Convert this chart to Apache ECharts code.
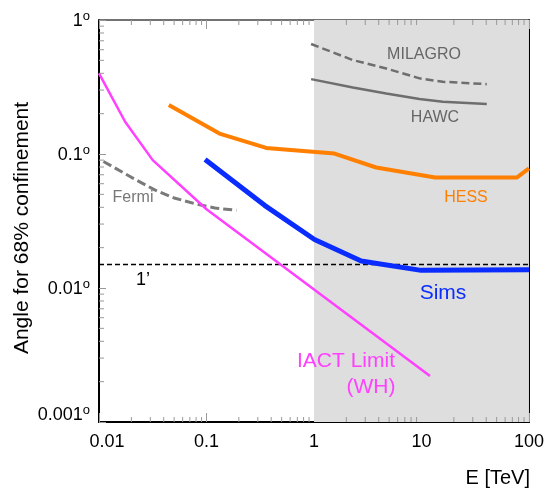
<!DOCTYPE html>
<html><head><meta charset="utf-8">
<script src="https://cdn.jsdelivr.net/npm/echarts@6/dist/echarts.min.js"></script>
<style>html,body{margin:0;padding:0;background:#fff}#c{width:547px;height:490px}</style>
</head><body><div id="c"></div>
<script>
// ---- data ----
const xTickValues = [0.01, 0.1, 1, 10, 100];
const xTickLabels = ['0.01', '0.1', '1', '10', '100'];
const yTickValues = [0.001, 0.01, 0.1, 1];
const yTickLabels = ['0.001', '0.01', '0.1', '1'];

const iactE     = [0.01, 0.0175, 0.0316, 0.1, 12];
const iactTheta = [0.40, 0.174, 0.090, 0.0387, 0.0022];

const fermiE     = [0.011, 0.02, 0.033, 0.05, 0.077, 0.12, 0.19];
const fermiTheta = [0.088, 0.067, 0.054, 0.047, 0.0427, 0.0395, 0.038];

const hessE     = [0.0446, 0.132, 0.359, 1.55, 3.79, 13.4, 76.9, 100];
const hessTheta = [0.232, 0.142, 0.111, 0.1008, 0.0793, 0.0667, 0.0667, 0.078];

const simsE     = [0.097, 0.347, 1.01, 2.75, 9.93, 100];
const simsTheta = [0.091, 0.0414, 0.023, 0.0159, 0.01354, 0.0137];

const milagroE     = [0.94, 2.3, 4.7, 9.58, 15.8, 40.5];
const milagroTheta = [0.662, 0.502, 0.435, 0.367, 0.346, 0.332];

const hawcE     = [0.94, 2.3, 4.7, 9.58, 15.8, 40.5];
const hawcTheta = [0.362, 0.314, 0.283, 0.257, 0.245, 0.236];

const arcminE     = [0.01, 100];
const arcminTheta = [0.015, 0.015];

const shadeE = [1, 100];

// ---- helpers ----
const FONT = 'Liberation Sans, Arial, Helvetica, sans-serif';
const pairs = (xs, ys) => xs.map((x, i) => [x, ys[i]]);
const idxOf = (arr, v) => arr.findIndex(t => Math.abs(Math.log10(t) - Math.log10(v)) < 1e-6);

// minor tick positions (2..9 per decade)
const minorData = [];
for (let d = -2; d < 2; d++) for (let k = 2; k <= 9; k++) {
  const v = k * Math.pow(10, d);
  minorData.push([v, 0.001, 0]);
  minorData.push([v, 1, 1]);
}
for (let d = -3; d < 0; d++) for (let k = 2; k <= 9; k++) {
  minorData.push([0.01, k * Math.pow(10, d), 2]);
}

const chart = echarts.init(document.getElementById('c'), null, {renderer: 'canvas'});

const tickStyle = {color: '#999', width: 1};

const option = {
  animation: false,
  backgroundColor: '#fff',
  grid: {left: 99, right: 17, top: 20, bottom: 68, containLabel: false},
  xAxis: [
    {
      type: 'log', logBase: 10, min: 0.01, max: 100, splitNumber: 4, position: 'bottom',
      axisLine: {show: true, onZero: false, lineStyle: {color: '#000', width: 2}},
      axisTick: {show: true, inside: true, length: 9, lineStyle: tickStyle},
      splitLine: {show: false},
      axisLabel: {
        margin: 11, fontFamily: FONT, fontSize: 18, color: '#000',
        formatter: v => {
          const i = idxOf(xTickValues, v);
          if (i < 0) return '';
          return i === 0 ? '{s|' + xTickLabels[i] + '}' : xTickLabels[i];
        },
        rich: {s: {fontFamily: FONT, fontSize: 18, color: '#000', padding: [0, 0, 0, 16]}}
      }
    },
    {
      type: 'log', logBase: 10, min: 0.01, max: 100, splitNumber: 4, position: 'top',
      axisLine: {show: true, onZero: false, lineStyle: {color: '#444', width: 1.5}},
      axisTick: {show: true, inside: true, length: 9, lineStyle: tickStyle},
      axisLabel: {show: false}, splitLine: {show: false}
    }
  ],
  yAxis: [
    {
      type: 'log', logBase: 10, min: 0.001, max: 1, splitNumber: 3, position: 'left',
      axisLine: {show: true, onZero: false, lineStyle: {color: '#000', width: 2}},
      axisTick: {show: true, inside: true, length: 7, lineStyle: tickStyle},
      splitLine: {show: false},
      axisLabel: {
        margin: 9, fontFamily: FONT, fontSize: 18, color: '#000',
        formatter: v => {
          const i = idxOf(yTickValues, v);
          if (i < 0) return '';
          const s = '{v|' + yTickLabels[i] + '}{d|o}';
          return i === 0 ? s + '\n{e|}' : s;
        },
        rich: {
          v: {fontFamily: FONT, fontSize: 18, color: '#000', lineHeight: 20, verticalAlign: 'bottom'},
          d: {fontFamily: FONT, fontSize: 13, color: '#000', lineHeight: 13, verticalAlign: 'top'},
          e: {fontSize: 10, lineHeight: 16}
        }
      }
    },
    {
      type: 'log', logBase: 10, min: 0.001, max: 1, splitNumber: 3, position: 'right',
      axisLine: {show: true, onZero: false, lineStyle: {color: '#000', width: 2}},
      axisTick: {show: false}, axisLabel: {show: false}, splitLine: {show: false}
    }
  ],
  series: [
    {
      name: 'shade', type: 'line', data: [], z: 1, silent: true,
      markArea: {silent: true, itemStyle: {color: '#dedede'},
        data: [[{xAxis: shadeE[0]}, {xAxis: shadeE[1]}]]}
    },
    {
      name: 'minorTicks', type: 'custom', z: 5, silent: true, clip: false,
      data: minorData,
      renderItem: (params, api) => {
        const p = api.coord([api.value(0), api.value(1)]);
        const side = api.value(2);
        let x2 = p[0], y2 = p[1];
        if (side === 0) y2 = p[1] - 5;
        else if (side === 1) y2 = p[1] + 5;
        else x2 = p[0] + 5;
        return {type: 'line', shape: {x1: p[0], y1: p[1], x2: x2, y2: y2},
          style: {stroke: '#999', lineWidth: 1}};
      }
    },
    {name: 'Fermi', type: 'line', z: 3, symbol: 'none', data: pairs(fermiE, fermiTheta),
      lineStyle: {color: '#7a7a7a', width: 3, type: [9, 4]}},
    {name: 'MILAGRO', type: 'line', z: 3, symbol: 'none', data: pairs(milagroE, milagroTheta),
      lineStyle: {color: '#6e6e6e', width: 2.5, type: [8, 4]}},
    {name: 'HAWC', type: 'line', z: 3, symbol: 'none', data: pairs(hawcE, hawcTheta),
      lineStyle: {color: '#6e6e6e', width: 2.5}},
    {name: '1arcmin', type: 'line', z: 3, symbol: 'none', data: pairs(arcminE, arcminTheta),
      lineStyle: {color: '#000', width: 1.5, type: [5, 3]}},
    {name: 'IACT', type: 'line', z: 3, symbol: 'none', data: pairs(iactE, iactTheta),
      lineStyle: {color: '#ff40ff', width: 2.5}},
    {name: 'HESS', type: 'line', z: 3, symbol: 'none', data: pairs(hessE, hessTheta),
      lineStyle: {color: '#ff7f00', width: 4}},
    {name: 'Sims', type: 'line', z: 3, symbol: 'none', data: pairs(simsE, simsTheta),
      lineStyle: {color: '#0a2cff', width: 5}}
  ],
  graphic: [
    {type: 'text', x: 22, y: 228, rotation: Math.PI / 2, z: 10,
      style: {text: 'Angle for 68% confinement', font: '21px ' + FONT, fill: '#000', textAlign: 'center', textVerticalAlign: 'middle'}},
    {type: 'text', x: 530, y: 478, z: 10,
      style: {text: 'E [TeV]', font: '20px ' + FONT, fill: '#000', textAlign: 'right', textVerticalAlign: 'middle'}},
    {type: 'text', x: 424, y: 55, z: 10,
      style: {text: 'MILAGRO', font: '16px ' + FONT, fill: '#666', textAlign: 'center', textVerticalAlign: 'middle'}},
    {type: 'text', x: 435, y: 118, z: 10,
      style: {text: 'HAWC', font: '16px ' + FONT, fill: '#666', textAlign: 'center', textVerticalAlign: 'middle'}},
    {type: 'text', x: 466, y: 198, z: 10,
      style: {text: 'HESS', font: '16px ' + FONT, fill: '#ff7f00', textAlign: 'center', textVerticalAlign: 'middle'}},
    {type: 'text', x: 133, y: 198, z: 10,
      style: {text: 'Fermi', font: '16px ' + FONT, fill: '#777', textAlign: 'center', textVerticalAlign: 'middle'}},
    {type: 'text', x: 443, y: 293, z: 10,
      style: {text: 'Sims', font: '21px ' + FONT, fill: '#0a2cff', textAlign: 'center', textVerticalAlign: 'middle'}},
    {type: 'text', x: 346, y: 361, z: 10,
      style: {text: 'IACT Limit', font: '21px ' + FONT, fill: '#ff40ff', textAlign: 'center', textVerticalAlign: 'middle'}},
    {type: 'text', x: 371, y: 387, z: 10,
      style: {text: '(WH)', font: '21px ' + FONT, fill: '#ff40ff', textAlign: 'center', textVerticalAlign: 'middle'}},
    {type: 'text', x: 143, y: 280, z: 10,
      style: {text: '1\u2019', font: '18px ' + FONT, fill: '#000', textAlign: 'center', textVerticalAlign: 'middle'}}
  ]
};
chart.setOption(option);
</script>
</body></html>
